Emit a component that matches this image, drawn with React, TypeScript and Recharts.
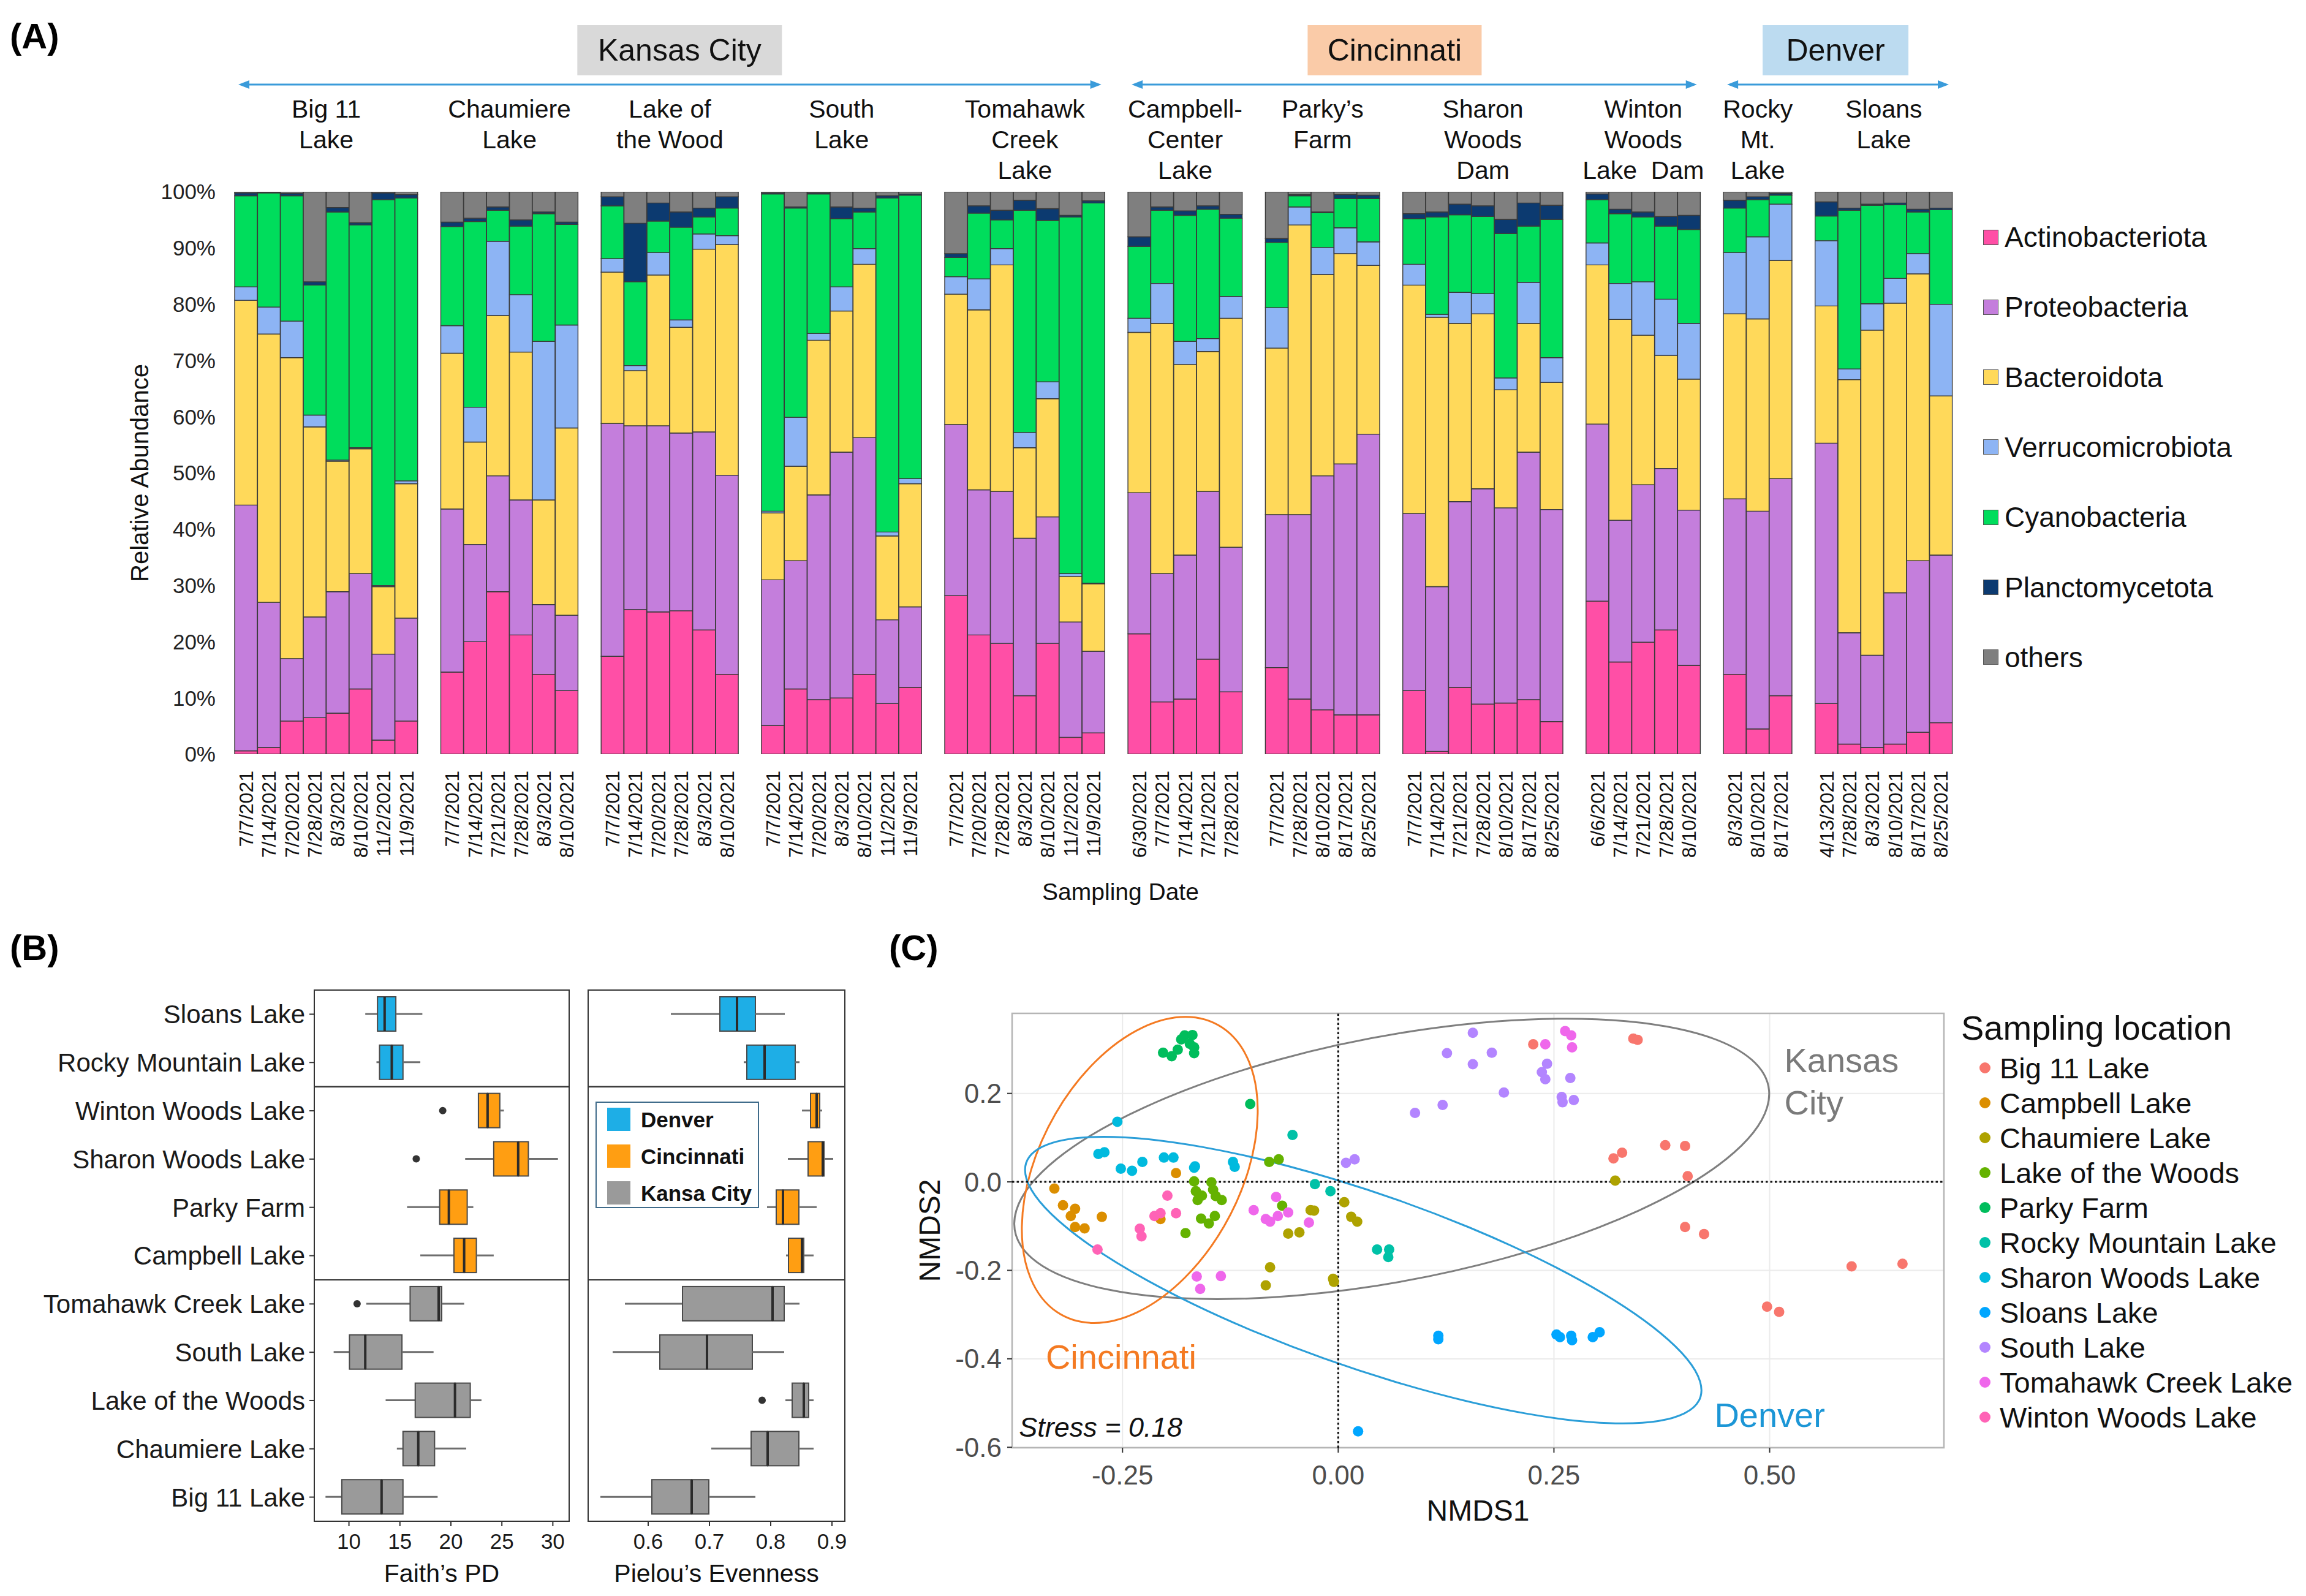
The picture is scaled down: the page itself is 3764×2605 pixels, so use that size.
import React from 'react';
import {
  BarChart,
  Bar,
  ComposedChart,
  ScatterChart,
  Scatter,
  XAxis,
  YAxis,
  CartesianGrid,
  ReferenceArea,
  ReferenceLine,
  ReferenceDot,
} from 'recharts';

const FONT = "'Liberation Sans', Arial, Helvetica, sans-serif";

// ---------- (A) relative abundance per sample ----------
const lakeHeaders = [
  ['Big 11', 'Lake'],
  ['Chaumiere', 'Lake'],
  ['Lake of', 'the Wood'],
  ['South', 'Lake'],
  ['Tomahawk', 'Creek', 'Lake'],
  ['Campbell-', 'Center', 'Lake'],
  ['Parky’s', 'Farm'],
  ['Sharon', 'Woods', 'Dam'],
  ['Winton', 'Woods', 'Lake  Dam'],
  ['Rocky', 'Mt.', 'Lake'],
  ['Sloans', 'Lake'],
];

const sampleDates = [
  ['7/7/2021', '7/14/2021', '7/20/2021', '7/28/2021', '8/3/2021', '8/10/2021', '11/2/2021', '11/9/2021'],
  ['7/7/2021', '7/14/2021', '7/21/2021', '7/28/2021', '8/3/2021', '8/10/2021'],
  ['7/7/2021', '7/14/2021', '7/20/2021', '7/28/2021', '8/3/2021', '8/10/2021'],
  ['7/7/2021', '7/14/2021', '7/20/2021', '8/3/2021', '8/10/2021', '11/2/2021', '11/9/2021'],
  ['7/7/2021', '7/20/2021', '7/28/2021', '8/3/2021', '8/10/2021', '11/2/2021', '11/9/2021'],
  ['6/30/2021', '7/7/2021', '7/14/2021', '7/21/2021', '7/28/2021'],
  ['7/7/2021', '7/28/2021', '8/10/2021', '8/17/2021', '8/25/2021'],
  ['7/7/2021', '7/14/2021', '7/21/2021', '7/28/2021', '8/10/2021', '8/17/2021', '8/25/2021'],
  ['6/6/2021', '7/14/2021', '7/21/2021', '7/28/2021', '8/10/2021'],
  ['8/3/2021', '8/10/2021', '8/17/2021'],
  ['4/13/2021', '7/28/2021', '8/3/2021', '8/10/2021', '8/17/2021', '8/25/2021'],
];

const cityNames = ['Kansas City', 'Cincinnati', 'Denver'];
const cityFirstLake = [0, 5, 9];
const cityLastLake = [4, 8, 10];

const actinobacteriota = [
  [0.6, 1.2, 5.9, 6.5, 7.3, 11.6, 2.5, 5.9],
  [14.6, 20.0, 28.9, 21.2, 14.2, 11.3],
  [17.4, 25.7, 25.3, 25.5, 22.1, 14.2],
  [5.1, 11.6, 9.7, 10.0, 14.2, 9.0, 11.9],
  [28.2, 21.2, 19.7, 10.4, 19.7, 3.0, 3.8],
  [21.4, 9.3, 9.8, 16.9, 11.1],
  [15.4, 9.8, 7.9, 7.0, 7.0],
  [11.3, 0.5, 11.9, 8.9, 9.1, 9.7, 5.8],
  [27.2, 16.4, 19.9, 22.1, 15.8],
  [14.2, 4.5, 10.4],
  [9.0, 1.8, 1.2, 1.8, 3.9, 5.6],
];
const proteobacteria = [
  [43.7, 25.8, 11.1, 17.9, 21.6, 20.5, 15.3, 18.3],
  [29.0, 17.3, 20.6, 24.0, 12.4, 13.4],
  [41.4, 32.7, 33.1, 31.6, 35.2, 35.4],
  [25.9, 22.8, 36.4, 43.7, 42.1, 14.9, 14.3],
  [30.4, 25.8, 27.0, 28.0, 22.5, 20.5, 14.5],
  [25.1, 22.8, 25.6, 29.8, 25.7],
  [27.2, 32.8, 41.6, 44.6, 49.9],
  [31.5, 29.3, 33.0, 38.3, 34.7, 44.0, 37.7],
  [31.5, 25.2, 28.0, 28.7, 27.6],
  [31.2, 38.7, 38.6],
  [46.3, 19.8, 16.4, 26.9, 30.5, 29.8],
];
const bacteroidota = [
  [36.4, 47.7, 53.5, 33.8, 23.2, 22.2, 12.0, 23.9],
  [27.7, 18.2, 28.5, 26.3, 18.6, 33.3],
  [26.9, 9.8, 26.8, 18.8, 32.5, 41.0],
  [11.9, 16.8, 27.5, 25.1, 30.8, 14.9, 21.9],
  [23.2, 32.0, 40.3, 16.1, 21.0, 8.1, 12.0],
  [28.5, 44.5, 33.9, 24.9, 40.7],
  [29.6, 51.5, 35.8, 37.4, 30.0],
  [40.6, 47.9, 31.7, 31.1, 21.0, 22.9, 22.6],
  [28.3, 35.7, 26.6, 20.1, 23.3],
  [32.9, 34.2, 38.8],
  [24.4, 45.0, 57.8, 51.5, 51.0, 28.3],
];
const verrucomicrobiota = [
  [2.4, 4.8, 6.5, 2.1, 0.2, 0.2, 0.2, 0.5],
  [4.9, 6.2, 13.2, 10.2, 28.2, 18.3],
  [2.4, 0.9, 4.0, 1.3, 2.7, 1.6],
  [0.3, 8.7, 1.2, 4.3, 2.8, 0.7, 0.9],
  [3.1, 5.5, 2.9, 2.7, 3.0, 0.5, 0.1],
  [2.5, 7.1, 4.1, 2.3, 3.9],
  [7.2, 3.2, 4.8, 4.6, 4.2],
  [3.7, 0.5, 5.5, 3.6, 2.1, 7.3, 4.4],
  [3.9, 6.4, 9.5, 10.0, 9.9],
  [10.9, 14.6, 10.0],
  [11.6, 1.9, 4.7, 4.4, 3.6, 16.3],
];
const cyanobacteria = [
  [16.2, 20.3, 22.3, 23.1, 44.1, 39.6, 68.6, 50.3],
  [17.6, 33.0, 5.5, 12.2, 22.7, 17.9],
  [9.4, 14.9, 5.6, 16.5, 3.0, 4.9],
  [56.4, 37.2, 24.8, 12.1, 6.5, 59.4, 50.4],
  [3.4, 11.7, 5.1, 39.5, 28.7, 63.4, 67.6],
  [12.8, 13.0, 22.4, 23.0, 13.9],
  [11.6, 2.0, 6.2, 5.2, 7.7],
  [8.1, 17.3, 13.8, 13.7, 25.7, 10.0, 24.6],
  [7.7, 12.4, 11.5, 13.0, 16.7],
  [7.9, 6.6, 1.6],
  [4.4, 28.2, 17.5, 13.1, 7.4, 16.8],
];
const planctomycetota = [
  [0.5, 0.1, 0.4, 0.6, 0.8, 0.4, 1.2, 0.6],
  [0.8, 0.6, 0.6, 1.1, 0.3, 0.4],
  [1.6, 10.4, 3.2, 2.7, 1.6, 2.0],
  [0.2, 0.2, 0.2, 2.1, 0.7, 0.4, 0.2],
  [0.7, 1.3, 1.7, 1.8, 2.1, 0.3, 0.4],
  [1.7, 0.6, 0.8, 0.6, 0.7],
  [0.7, 0.2, 0.1, 0.7, 0.6],
  [0.9, 0.9, 1.9, 1.9, 2.5, 4.1, 2.5],
  [1.0, 0.8, 0.9, 1.7, 2.5],
  [1.4, 0.5, 0.3],
  [2.5, 0.4, 0.2, 0.3, 0.5, 0.3],
];
const otherPhyla = [
  [0.2, 0.1, 0.3, 16.0, 2.8, 5.5, 0.2, 0.5],
  [5.4, 4.7, 2.7, 5.0, 3.6, 5.4],
  [0.9, 5.6, 2.0, 3.6, 2.9, 0.9],
  [0.2, 2.7, 0.2, 2.7, 2.9, 0.7, 0.4],
  [11.0, 2.5, 3.3, 1.5, 3.0, 4.2, 1.6],
  [8.0, 2.7, 3.4, 2.5, 4.0],
  [8.3, 0.5, 3.6, 0.5, 0.6],
  [3.9, 3.6, 2.2, 2.5, 4.9, 2.0, 2.4],
  [0.4, 3.1, 3.6, 4.4, 4.2],
  [1.5, 0.9, 0.3],
  [1.8, 2.9, 2.2, 2.0, 3.1, 2.9],
];

const pctTicks = [0, 10, 20, 30, 40, 50, 60, 70, 80, 90, 100];

const phyla = [
  { key: 'act', name: 'Actinobacteriota', color: '#FF4FA6', values: actinobacteriota },
  { key: 'pro', name: 'Proteobacteria', color: '#C47EDC', values: proteobacteria },
  { key: 'bac', name: 'Bacteroidota', color: '#FFD95A', values: bacteroidota },
  { key: 'ver', name: 'Verrucomicrobiota', color: '#8DB4F4', values: verrucomicrobiota },
  { key: 'cya', name: 'Cyanobacteria', color: '#00DD5C', values: cyanobacteria },
  { key: 'pla', name: 'Planctomycetota', color: '#0C3A70', values: planctomycetota },
  { key: 'oth', name: 'others', color: '#7F7F7F', values: otherPhyla },
];

const compositionRows: any[] = [];
sampleDates.forEach((dates, g) => {
  if (g > 0) compositionRows.push({ id: `gap-${g}`, date: '' });
  dates.forEach((date, s) => {
    const row: any = { id: `${g}-${s}`, date };
    phyla.forEach((ph) => {
      row[ph.key] = ph.values[g][s];
    });
    compositionRows.push(row);
  });
});
const dateById = new Map(compositionRows.map((r) => [r.id, r.date]));

const cityBox: any = {
  'Kansas City': { fill: '#D9D9D9', w: 334, dx: 16 },
  Cincinnati: { fill: '#FACBA8', w: 284, dx: -32 },
  Denver: { fill: '#BCDBF0', w: 238, dx: -4 },
};
const ARROW = '#3A9BDA';

const DateTick = (p: any) => {
  const label = dateById.get(p.payload.value);
  if (!label) return <g />;
  const y = p.y + 27;
  return (
    <text
      x={p.x}
      y={y}
      transform={`rotate(-90 ${p.x} ${y})`}
      textAnchor="end"
      dy="0.35em"
      fontSize={32}
      fill="#111"
      fontFamily={FONT}
    >
      {label}
    </text>
  );
};

const lakeHeaderLabel = (lines: string[]) => (p: any) => {
  const vb = p.viewBox;
  const cx = vb.x + vb.width / 2;
  return (
    <g>
      {lines.map((t, i) => (
        <text
          key={i}
          x={cx}
          y={vb.y - 135 + i * 50}
          textAnchor="middle"
          dominantBaseline="central"
          fontSize={41}
          fill="#111"
          fontFamily={FONT}
          style={{ whiteSpace: 'pre' }}
        >
          {t}
        </text>
      ))}
    </g>
  );
};

const cityHeaderLabel = (name: string) => (p: any) => {
  const vb = p.viewBox;
  const box = cityBox[name];
  const x0 = vb.x + 6;
  const x1 = vb.x + vb.width - 6;
  const cx = (x0 + x1) / 2 + box.dx;
  const ay = vb.y - 175;
  return (
    <g>
      <line x1={x0 + 12} x2={x1 - 12} y1={ay} y2={ay} stroke={ARROW} strokeWidth={3} />
      <polygon points={`${x0},${ay} ${x0 + 18},${ay - 7} ${x0 + 18},${ay + 7}`} fill={ARROW} />
      <polygon points={`${x1},${ay} ${x1 - 18},${ay - 7} ${x1 - 18},${ay + 7}`} fill={ARROW} />
      <rect x={cx - box.w / 2} y={vb.y - 272} width={box.w} height={82} fill={box.fill} />
      <text
        x={cx}
        y={vb.y - 231}
        textAnchor="middle"
        dominantBaseline="central"
        fontSize={50}
        fill="#111"
        fontFamily={FONT}
      >
        {name}
      </text>
    </g>
  );
};

function CompositionPanel() {
  return (
    <BarChart
      width={3764}
      height={1490}
      data={compositionRows}
      margin={{ top: 313, right: 577, bottom: 0, left: 0 }}
      barCategoryGap={0}
      barGap={0}
    >
      <XAxis
        dataKey="id"
        interval={0}
        tick={<DateTick />}
        tickLine={false}
        axisLine={false}
        tickSize={0}
        tickMargin={0}
        height={259}
        label={(p: any) => (
          <text
            x={p.viewBox.x + p.viewBox.width / 2 + 44}
            y={p.viewBox.y + 224}
            textAnchor="middle"
            dominantBaseline="central"
            fontSize={39}
            fill="#111"
            fontFamily={FONT}
          >
            Sampling Date
          </text>
        )}
      />
      <YAxis
        type="number"
        domain={[0, 100]}
        allowDataOverflow
        ticks={pctTicks}
        tickFormatter={(v: number) => `${v}%`}
        width={383}
        axisLine={false}
        tickLine={false}
        tickSize={29}
        tickMargin={2}
        tick={{ fontSize: 35, fill: '#222', fontFamily: FONT }}
        label={(p: any) => {
          const cy = p.viewBox.y + p.viewBox.height / 2;
          const x = p.viewBox.x + 228;
          return (
            <text
              x={x}
              y={cy}
              transform={`rotate(-90 ${x} ${cy})`}
              textAnchor="middle"
              dominantBaseline="central"
              fontSize={40}
              fill="#111"
              fontFamily={FONT}
            >
              Relative Abundance
            </text>
          );
        }}
      />
      {phyla.map((ph) => (
        <Bar
          key={ph.key}
          dataKey={ph.key}
          name={ph.name}
          stackId="a"
          fill={ph.color}
          stroke="#3a3a3a"
          strokeWidth={1.4}
          isAnimationActive={false}
        />
      ))}
      {lakeHeaders.map((lines, g) => (
        <ReferenceArea
          key={`lake-${g}`}
          x1={`${g}-0`}
          x2={`${g}-${sampleDates[g].length - 1}`}
          y1={0}
          y2={100}
          ifOverflow="visible"
          fill="none"
          stroke="none"
          label={lakeHeaderLabel(lines)}
        />
      ))}
      {cityNames.map((name, c) => (
        <ReferenceArea
          key={`city-${c}`}
          x1={`${cityFirstLake[c]}-0`}
          x2={`${cityLastLake[c]}-${sampleDates[cityLastLake[c]].length - 1}`}
          y1={0}
          y2={100}
          ifOverflow="visible"
          fill="none"
          stroke="none"
          label={cityHeaderLabel(name)}
        />
      ))}
    </BarChart>
  );
}

// ---------- (B) alpha diversity box plots ----------
const boxLakes = [
  'Sloans Lake',
  'Rocky Mountain Lake',
  'Winton Woods Lake',
  'Sharon Woods Lake',
  'Parky Farm',
  'Campbell Lake',
  'Tomahawk Creek Lake',
  'South Lake',
  'Lake of the Woods',
  'Chaumiere Lake',
  'Big 11 Lake',
];
const boxCities = [
  'Denver', 'Denver',
  'Cincinnati', 'Cincinnati', 'Cincinnati', 'Cincinnati',
  'Kansa City', 'Kansa City', 'Kansa City', 'Kansa City', 'Kansa City',
];
const legendCities = ['Denver', 'Cincinnati', 'Kansa City'];
const cityColors: any = { Denver: '#1EAEE6', Cincinnati: '#FF9E12', 'Kansa City': '#9A9A9A' };

// [min, q1, median, q3, max]
const faithStats = [
  [11.6, 12.8, 13.5, 14.6, 17.2],
  [12.7, 13.0, 14.2, 15.3, 17.0],
  [22.7, 22.7, 23.6, 24.8, 25.2],
  [21.4, 24.2, 26.6, 27.6, 30.5],
  [15.7, 18.9, 19.8, 21.6, 22.2],
  [17.0, 20.3, 21.3, 22.5, 24.2],
  [11.7, 16.0, 18.8, 19.1, 21.3],
  [8.5, 10.05, 11.6, 15.2, 18.3],
  [13.6, 16.5, 20.4, 21.9, 23.0],
  [14.7, 15.3, 16.8, 18.4, 21.5],
  [7.7, 9.3, 13.2, 15.3, 18.7],
];
const faithOutliers = [[], [], [19.2], [16.6], [], [], [10.8], [], [], [], []];
const pielouStats = [
  [0.637, 0.717, 0.745, 0.775, 0.823],
  [0.756, 0.761, 0.79, 0.84, 0.847],
  [0.851, 0.865, 0.875, 0.88, 0.884],
  [0.828, 0.861, 0.885, 0.887, 0.902],
  [0.794, 0.809, 0.82, 0.846, 0.875],
  [0.825, 0.829, 0.851, 0.854, 0.87],
  [0.562, 0.656, 0.803, 0.822, 0.847],
  [0.542, 0.619, 0.696, 0.77, 0.822],
  [0.824, 0.835, 0.854, 0.862, 0.87],
  [0.703, 0.768, 0.795, 0.846, 0.87],
  [0.522, 0.606, 0.671, 0.699, 0.775],
];
const pielouOutliers = [[], [], [], [], [], [], [], [], [0.786], [], []];
const faithTicks = [10, 15, 20, 25, 30];
const pielouTicks = [0.6, 0.7, 0.8, 0.9];

const facets: string[][] = [];
boxCities.forEach((c, i) => {
  if (i === 0 || c !== boxCities[i - 1]) facets.push([boxLakes[i], boxLakes[i]]);
  else facets[facets.length - 1][1] = boxLakes[i];
});

function toBoxRows(stats: number[][], outliers: number[][]) {
  return boxLakes.map((name, i) => {
    const [lo, q1, med, q3, hi] = stats[i];
    return {
      name,
      color: cityColors[boxCities[i]],
      stats: stats[i],
      outliers: outliers[i],
      base: lo,
      whiskerLow: q1 - lo,
      boxLow: med - q1,
      boxHigh: q3 - med,
      whiskerHigh: hi - q3,
    };
  });
}

const WhiskerShape = (p: any) => {
  if (!p.width || p.width <= 0) return <g />;
  const cy = p.y + p.height / 2;
  return <line x1={p.x} x2={p.x + p.width} y1={cy} y2={cy} stroke="#6e6e6e" strokeWidth={3} />;
};

const LowerBoxShape = (p: any) => {
  const { stats, outliers, color } = p.payload;
  const cy = p.y + p.height / 2;
  const perUnit = p.width / (stats[2] - stats[1]);
  return (
    <g>
      <rect x={p.x} y={p.y} width={p.width} height={p.height} fill={color} stroke="#4a4a4a" strokeWidth={2} />
      {outliers.map((v: number, i: number) => (
        <circle key={i} cx={p.x + (v - stats[1]) * perUnit} cy={cy} r={6} fill="#333" />
      ))}
    </g>
  );
};

const UpperBoxShape = (p: any) => (
  <g>
    <rect
      x={p.x}
      y={p.y}
      width={p.width}
      height={p.height}
      fill={p.payload.color}
      stroke="#4a4a4a"
      strokeWidth={2}
    />
    <line x1={p.x} x2={p.x} y1={p.y} y2={p.y + p.height} stroke="#2b2b2b" strokeWidth={4} />
  </g>
);

function BoxPanel(props: any) {
  const { rows, domain, ticks, fmt, title, width, yWidth, marginRight, showNames } = props;
  return (
    <ComposedChart
      layout="vertical"
      width={width}
      height={1025}
      data={rows}
      margin={{ top: 36, right: marginRight, bottom: 12, left: 0 }}
      barSize={56}
    >
      <XAxis
        type="number"
        domain={domain}
        allowDataOverflow
        ticks={ticks}
        tickFormatter={fmt}
        height={110}
        axisLine={false}
        tickSize={8}
        tickMargin={12}
        tickLine={{ stroke: '#333', strokeWidth: 2 }}
        tick={{ fontSize: 35, fill: '#1a1a1a', fontFamily: FONT }}
        label={(p: any) => (
          <text
            x={p.viewBox.x + p.viewBox.width / 2}
            y={p.viewBox.y + 85}
            textAnchor="middle"
            dominantBaseline="central"
            fontSize={41}
            fill="#111"
            fontFamily={FONT}
          >
            {title}
          </text>
        )}
      />
      <YAxis
        type="category"
        dataKey="name"
        width={yWidth}
        interval={0}
        axisLine={false}
        tickSize={8}
        tickMargin={7}
        tickLine={{ stroke: '#333', strokeWidth: 2 }}
        tick={showNames ? { fontSize: 42, fill: '#1a1a1a', fontFamily: FONT } : false}
      />
      {facets.map((f, i) => (
        <ReferenceArea
          key={i}
          x1={domain[0]}
          x2={domain[1]}
          y1={f[0]}
          y2={f[1]}
          ifOverflow="visible"
          fill="none"
          stroke="#333"
          strokeWidth={2}
        />
      ))}
      <Bar dataKey="base" stackId="b" fill="none" stroke="none" isAnimationActive={false} />
      <Bar dataKey="whiskerLow" stackId="b" shape={WhiskerShape} isAnimationActive={false} />
      <Bar dataKey="boxLow" stackId="b" shape={LowerBoxShape} isAnimationActive={false} />
      <Bar dataKey="boxHigh" stackId="b" shape={UpperBoxShape} isAnimationActive={false} />
      <Bar dataKey="whiskerHigh" stackId="b" shape={WhiskerShape} isAnimationActive={false} />
    </ComposedChart>
  );
}

// ---------- (C) NMDS ordination ----------
const big11Pts = [
  [0.226, 0.311], [0.342, 0.324], [0.347, 0.321], [0.319, 0.053], [0.329, 0.066], [0.379, 0.083],
  [0.402, 0.081], [0.405, 0.013], [0.402, -0.102], [0.424, -0.118], [0.595, -0.191], [0.654, -0.185],
  [0.497, -0.282], [0.511, -0.294],
];
const campbellPts = [
  [-0.188, 0.02], [-0.329, -0.015], [-0.319, -0.053], [-0.305, -0.061], [-0.31, -0.077],
  [-0.305, -0.102], [-0.294, -0.105], [-0.274, -0.079], [-0.206, -0.084],
];
const chaumierePts = [
  [0.007, -0.046], [0.015, -0.079], [0.022, -0.09], [-0.032, -0.064], [-0.028, -0.065], [-0.058, -0.117],
  [-0.045, -0.114], [-0.079, -0.193], [-0.084, -0.234], [-0.006, -0.219], [-0.005, -0.226], [0.321, 0.003],
];
const lakeOfTheWoodsPts = [
  [-0.167, 0.001], [-0.165, -0.021], [-0.163, -0.041], [-0.158, -0.031], [-0.147, -0.001], [-0.145, -0.018],
  [-0.142, -0.032], [-0.135, -0.041], [-0.065, -0.054], [-0.159, -0.083], [-0.15, -0.094], [-0.143, -0.077],
  [-0.177, -0.116], [-0.08, 0.045], [-0.069, 0.051],
];
const parkyPts = [
  [-0.203, 0.292], [-0.193, 0.284], [-0.186, 0.299], [-0.182, 0.322], [-0.178, 0.331], [-0.169, 0.332],
  [-0.172, 0.312], [-0.167, 0.304], [-0.167, 0.291], [-0.102, 0.176],
];
const rockyPts = [
  [-0.053, 0.106], [-0.027, -0.005], [-0.009, -0.021], [0.045, -0.153], [0.059, -0.153], [0.058, -0.17],
];
const sharonPts = [
  [-0.256, 0.136], [-0.278, 0.063], [-0.271, 0.067], [-0.252, 0.03], [-0.239, 0.025], [-0.227, 0.045],
  [-0.202, 0.055], [-0.191, 0.055], [-0.167, 0.032], [-0.166, 0.035], [-0.122, 0.045], [-0.12, 0.034],
];
const sloansPts = [
  [0.116, -0.348], [0.116, -0.356], [0.023, -0.564], [0.253, -0.345], [0.257, -0.351], [0.27, -0.348],
  [0.271, -0.358], [0.295, -0.351], [0.303, -0.34],
];
const southPts = [
  [0.009, 0.043], [0.019, 0.051], [0.089, 0.156], [0.121, 0.174], [0.126, 0.291], [0.156, 0.337],
  [0.178, 0.292], [0.156, 0.266], [0.192, 0.202], [0.242, 0.267], [0.236, 0.248], [0.24, 0.232],
  [0.269, 0.235], [0.259, 0.192], [0.26, 0.18], [0.273, 0.185],
];
const tomahawkPts = [
  [-0.164, -0.214], [-0.136, -0.213], [-0.16, -0.242], [-0.098, -0.064], [-0.084, -0.084], [-0.079, -0.09],
  [-0.072, -0.034], [-0.07, -0.077], [-0.058, -0.069], [-0.034, -0.092], [0.263, 0.341], [0.27, 0.331],
  [0.271, 0.304], [0.24, 0.311],
];
const wintonPts = [
  [-0.198, -0.031], [-0.213, -0.077], [-0.206, -0.071], [-0.188, -0.071], [-0.23, -0.106], [-0.228, -0.123],
  [-0.279, -0.153],
];

const locationNames = [
  'Big 11 Lake', 'Campbell Lake', 'Chaumiere Lake', 'Lake of the Woods', 'Parky Farm', 'Rocky Mountain Lake',
  'Sharon Woods Lake', 'Sloans Lake', 'South Lake', 'Tomahawk Creek Lake', 'Winton Woods Lake',
];
const locationColors = [
  '#F8766D', '#DB8E00', '#AEA200', '#64B200', '#00BD5C', '#00C1A7', '#00BADE', '#00A6FF', '#B385FF',
  '#EF67EB', '#FF63B6',
];
const locationPoints = [
  big11Pts, campbellPts, chaumierePts, lakeOfTheWoodsPts, parkyPts, rockyPts, sharonPts, sloansPts,
  southPts, tomahawkPts, wintonPts,
];

const nmds1Domain = [-0.378, 0.702];
const nmds2Domain = [-0.601, 0.381];
const nmds1Ticks = [-0.25, 0, 0.25, 0.5];
const nmds2Ticks = [-0.6, -0.4, -0.2, 0, 0.2];

// city ellipses: centre and two conjugate semi-axes (data units)
const ellipseCities = ['Kansas City', 'Cincinnati', 'Denver'];
const ellipseCentres = [[0.062, 0.052], [-0.23, 0.027], [0.029, -0.222]];
const ellipseAxisA = [[0.202, 0.317], [0.053, 0.346], [-0.301, 0.324]];
const ellipseAxisB = [[0.388, 0], [0.126, 0], [0.251, 0]];
const ellipseColors = ['#7F7F7F', '#F47A22', '#2B9ED8'];

const ellipseShape = (i: number, hx: number, hy: number) => (p: any) => {
  const A = ellipseAxisA[i];
  const B = ellipseAxisB[i];
  const w = Math.abs(p.width);
  const h = Math.abs(p.height);
  const sx = w / (2 * hx);
  const sy = h / (2 * hy);
  const cx = Math.min(p.x, p.x + p.width) + w / 2;
  const cy = Math.min(p.y, p.y + p.height) + h / 2;
  return (
    <circle
      cx={0}
      cy={0}
      r={1}
      transform={`matrix(${A[0] * sx},${-A[1] * sy},${B[0] * sx},${-B[1] * sy},${cx},${cy})`}
      fill="none"
      stroke={ellipseColors[i]}
      strokeWidth={3}
      vectorEffect="non-scaling-stroke"
    />
  );
};

const textDot = (lines: string[], color: string, size: number, italic = false) => (p: any) => (
  <text
    x={p.cx}
    y={p.cy}
    fontSize={size}
    fill={color}
    fontFamily={FONT}
    fontStyle={italic ? 'italic' : 'normal'}
    dominantBaseline="central"
  >
    {lines.map((t, i) => (
      <tspan key={i} x={p.cx} dy={i === 0 ? 0 : '1.23em'}>
        {t}
      </tspan>
    ))}
  </text>
);

function OrdinationPanel() {
  return (
    <ScatterChart width={1770} height={1025} margin={{ top: 74, right: 17, bottom: 0, left: 0 }}>
      <CartesianGrid stroke="#EBEBEB" strokeWidth={2} />
      <XAxis
        type="number"
        dataKey="x"
        domain={nmds1Domain}
        allowDataOverflow
        ticks={nmds1Ticks}
        tickFormatter={(v: number) => v.toFixed(2)}
        height={242}
        axisLine={false}
        tickSize={8}
        tickMargin={21}
        tickLine={{ stroke: '#333', strokeWidth: 2 }}
        tick={{ fontSize: 44, fill: '#4D4D4D', fontFamily: FONT }}
        label={(p: any) => (
          <text
            x={p.viewBox.x + p.viewBox.width / 2}
            y={p.viewBox.y + 102}
            textAnchor="middle"
            dominantBaseline="central"
            fontSize={48}
            fill="#111"
            fontFamily={FONT}
          >
            NMDS1
          </text>
        )}
      />
      <YAxis
        type="number"
        dataKey="y"
        domain={nmds2Domain}
        allowDataOverflow
        ticks={nmds2Ticks}
        tickFormatter={(v: number) => v.toFixed(1)}
        width={232}
        axisLine={false}
        tickSize={8}
        tickMargin={9}
        tickLine={{ stroke: '#333', strokeWidth: 2 }}
        tick={{ fontSize: 44, fill: '#4D4D4D', fontFamily: FONT }}
        label={(p: any) => {
          const cy = p.viewBox.y + p.viewBox.height / 2;
          const x = p.viewBox.x + 97;
          return (
            <text
              x={x}
              y={cy}
              transform={`rotate(-90 ${x} ${cy})`}
              textAnchor="middle"
              dominantBaseline="central"
              fontSize={48}
              fill="#111"
              fontFamily={FONT}
            >
              NMDS2
            </text>
          );
        }}
      />
      <ReferenceArea
        x1={nmds1Domain[0]}
        x2={nmds1Domain[1]}
        y1={nmds2Domain[0]}
        y2={nmds2Domain[1]}
        ifOverflow="visible"
        fill="none"
        stroke="#B5B5B5"
        strokeWidth={2.5}
      />
      <ReferenceLine x={0} stroke="#111" strokeWidth={3} strokeDasharray="3.5 4" />
      <ReferenceLine y={0} stroke="#111" strokeWidth={3} strokeDasharray="3.5 4" />
      {locationNames.map((name, i) => (
        <Scatter
          key={name}
          name={name}
          data={locationPoints[i].map(([x, y]) => ({ x, y }))}
          fill={locationColors[i]}
          isAnimationActive={false}
          shape={(p: any) => <circle cx={p.cx} cy={p.cy} r={8.5} fill={locationColors[i]} />}
        />
      ))}
      {ellipseCities.map((c, i) => {
        const A = ellipseAxisA[i];
        const B = ellipseAxisB[i];
        const hx = Math.hypot(A[0], B[0]);
        const hy = Math.hypot(A[1], B[1]);
        const [cx, cy] = ellipseCentres[i];
        return (
          <ReferenceArea
            key={c}
            x1={cx - hx}
            x2={cx + hx}
            y1={cy - hy}
            y2={cy + hy}
            ifOverflow="visible"
            shape={ellipseShape(i, hx, hy)}
          />
        );
      })}
      <ReferenceDot x={0.517} y={0.276} r={0} ifOverflow="visible" shape={textDot(['Kansas', 'City'], '#7A7A7A', 56)} />
      <ReferenceDot x={-0.339} y={-0.394} r={0} ifOverflow="visible" shape={textDot(['Cincinnati'], '#F47A22', 56)} />
      <ReferenceDot x={0.436} y={-0.526} r={0} ifOverflow="visible" shape={textDot(['Denver'], '#1C96D6', 56)} />
      <ReferenceDot x={-0.37} y={-0.554} r={0} ifOverflow="visible" shape={textDot(['Stress = 0.18'], '#111', 45, true)} />
    </ScatterChart>
  );
}

const abs = (left: number, top: number, extra: any = {}) => ({ position: 'absolute' as const, left, top, ...extra });

export default function App() {
  return (
    <div style={{ position: 'absolute', left: 0, top: 0, width: 3764, height: 2605, background: '#fff', overflow: 'hidden', fontFamily: FONT }}>
      <div style={abs(0, 0)}>
        <CompositionPanel />
      </div>
      <div style={abs(0, 1580)}>
        <BoxPanel
          rows={toBoxRows(faithStats, faithOutliers)}
          domain={[6.6, 31.6]}
          ticks={faithTicks}
          fmt={(v: number) => String(v)}
          title="Faith’s PD"
          width={960}
          yWidth={513}
          marginRight={31}
          showNames
        />
      </div>
      <div style={abs(940, 1580)}>
        <BoxPanel
          rows={toBoxRows(pielouStats, pielouOutliers)}
          domain={[0.502, 0.921]}
          ticks={pielouTicks}
          fmt={(v: number) => v.toFixed(1)}
          title="Pielou’s Evenness"
          width={460}
          yWidth={20}
          marginRight={21}
          showNames={false}
        />
      </div>
      <div style={abs(1420, 1580)}>
        <OrdinationPanel />
      </div>

      {/* panel letters */}
      <div style={abs(16, 30, { fontSize: 58, fontWeight: 700, lineHeight: 1 })}>(A)</div>
      <div style={abs(16, 1518, { fontSize: 58, fontWeight: 700, lineHeight: 1 })}>(B)</div>
      <div style={abs(1451, 1518, { fontSize: 58, fontWeight: 700, lineHeight: 1 })}>(C)</div>

      {/* (A) legend */}
      {phyla.map((ph, i) => (
        <div key={ph.key} style={abs(3237, 357 + i * 114.3, { height: 60, display: 'flex', alignItems: 'center' })}>
          <span style={{ width: 25, height: 25, background: ph.color, border: '1.5px solid #555', boxSizing: 'border-box' }} />
          <span style={{ marginLeft: 10, fontSize: 46, color: '#111', lineHeight: 1 }}>{ph.name}</span>
        </div>
      ))}

      {/* (B) legend */}
      <div
        style={abs(972, 1798, {
          width: 267,
          height: 174,
          border: '2.5px solid #3F6B8A',
          boxSizing: 'border-box',
          background: '#fff',
        })}
      />
      {legendCities.map((c, i) => (
        <div key={c} style={abs(991, 1807 + i * 60, { height: 40, display: 'flex', alignItems: 'center' })}>
          <span style={{ width: 38, height: 38, background: cityColors[c] }} />
          <span style={{ marginLeft: 17, fontSize: 35, fontWeight: 700, color: '#111', lineHeight: 1 }}>{c}</span>
        </div>
      ))}

      {/* (C) legend */}
      <div style={abs(3201, 1650, { fontSize: 56, color: '#111', lineHeight: 1 })}>Sampling location</div>
      {locationNames.map((n, i) => (
        <div key={n} style={abs(3231, 1714 + i * 57, { height: 58, display: 'flex', alignItems: 'center' })}>
          <span style={{ width: 18, height: 18, borderRadius: 9, background: locationColors[i] }} />
          <span style={{ marginLeft: 15, fontSize: 47, color: '#111', lineHeight: 1 }}>{n}</span>
        </div>
      ))}
    </div>
  );
}
